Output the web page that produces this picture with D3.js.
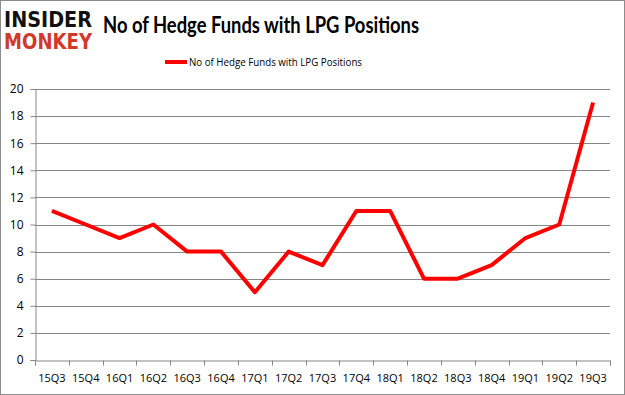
<!DOCTYPE html>
<html>
<head>
<meta charset="utf-8">
<script src="https://cdn.jsdelivr.net/npm/d3@7"></script>
<style>
  body { margin: 0; background: #fff; }
  svg { display: block; }
</style>
</head>
<body>
<svg id="drawing_region"></svg>
<script>
const quarters = ['15Q3','15Q4','16Q1','16Q2','16Q3','16Q4','17Q1','17Q2','17Q3','17Q4',
                  '18Q1','18Q2','18Q3','18Q4','19Q1','19Q2','19Q3'];
const funds = [11, 10, 9, 10, 8, 8, 5, 8, 7, 11, 11, 6, 6, 7, 9, 10, 19];
const yTicks = [0, 2, 4, 6, 8, 10, 12, 14, 16, 18, 20];
const seriesName = 'No of Hedge Funds with LPG Positions';

const width = 625, height = 395;
const margin = {top: 89, right: 15, bottom: 35, left: 35};
const innerW = width - margin.left - margin.right;
const innerH = height - margin.top - margin.bottom;

const svg = d3.select('#drawing_region')
    .attr('width', width)
    .attr('height', height);

svg.append('rect')
    .attr('x', 0.5).attr('y', 0.5)
    .attr('width', width - 1).attr('height', height - 1)
    .attr('fill', '#fff')
    .attr('stroke', '#8c8c8c');

// logo
svg.append('text')
    .attr('x', 4).attr('y', 27)
    .attr('font-family', 'DejaVu Sans')
    .attr('font-weight', 'bold')
    .attr('font-size', 21)
    .attr('textLength', 88)
    .attr('lengthAdjust', 'spacingAndGlyphs')
    .attr('fill', '#111')
    .text('INSIDER');
svg.append('text')
    .attr('x', 4).attr('y', 49)
    .attr('font-family', 'DejaVu Sans')
    .attr('font-weight', 'bold')
    .attr('font-size', 21)
    .attr('textLength', 88)
    .attr('lengthAdjust', 'spacingAndGlyphs')
    .attr('fill', '#d0392b')
    .text('MONKEY');

// title
svg.append('text')
    .attr('x', 103).attr('y', 33)
    .attr('font-family', 'Lato, "Open Sans", sans-serif')
    .attr('font-weight', 'bold')
    .attr('font-size', 22)
    .attr('textLength', 316)
    .attr('lengthAdjust', 'spacingAndGlyphs')
    .attr('fill', '#000')
    .text(seriesName);

// legend
svg.append('line')
    .attr('x1', 165).attr('x2', 187)
    .attr('y1', 62).attr('y2', 62)
    .attr('stroke', '#ff0000')
    .attr('stroke-width', 4);
svg.append('text')
    .attr('x', 189).attr('y', 66)
    .attr('font-family', '"Open Sans", sans-serif')
    .attr('font-size', 11)
    .attr('textLength', 173)
    .attr('lengthAdjust', 'spacingAndGlyphs')
    .attr('fill', '#000')
    .text(seriesName);

const chart = svg.append('g')
    .attr('transform', `translate(${margin.left}, ${margin.top})`);

const xscale = d3.scaleBand()
    .domain(quarters)
    .range([0, innerW]);

const yscale = d3.scaleLinear()
    .domain([0, 20])
    .range([innerH, 0]);

// gridlines
chart.append('g')
    .selectAll('line')
    .data(yTicks.filter(d => d > 0))
    .join('line')
    .attr('x1', 0).attr('x2', innerW)
    .attr('y1', d => Math.round(yscale(d)) + 0.5)
    .attr('y2', d => Math.round(yscale(d)) + 0.5)
    .attr('stroke', '#868686')
    .attr('stroke-width', 1);

const xaxis = d3.axisBottom(xscale)
    .tickSizeOuter(0)
    .tickSize(5)
    .tickPadding(9);

const xaxis_group = chart.append('g')
    .attr('transform', `translate(0, ${Math.round(innerH) + 0.5})`)
    .call(xaxis);
// ticks at band boundaries
xaxis_group.selectAll('.tick line').remove();
xaxis_group.selectAll('.bound')
    .data(d3.range(quarters.length + 1))
    .join('line')
    .attr('x1', i => Math.round(i * xscale.step()) + 0.5)
    .attr('x2', i => Math.round(i * xscale.step()) + 0.5)
    .attr('y1', 0).attr('y2', 5)
    .attr('stroke', '#868686');

const yaxis = d3.axisLeft(yscale)
    .tickValues(yTicks)
    .tickSizeOuter(0)
    .tickSize(5)
    .tickPadding(7);

const yaxis_group = chart.append('g')
    .attr('transform', 'translate(0.5, 0)')
    .call(yaxis);

chart.selectAll('.domain').attr('stroke', '#868686');
yaxis_group.selectAll('.tick line').attr('stroke', '#868686');
chart.selectAll('.tick text')
    .attr('font-family', '"Open Sans", sans-serif')
    .attr('font-size', 11)
    .attr('fill', '#000');
yaxis_group.selectAll('.tick text').attr('font-size', 12);

const line = d3.line()
    .x(d => xscale(d.q) + xscale.bandwidth() / 2)
    .y(d => yscale(d.v));

chart.append('path')
    .datum(quarters.map((q, i) => ({q: q, v: funds[i]})))
    .attr('d', line)
    .attr('fill', 'none')
    .attr('stroke', '#ff0000')
    .attr('stroke-width', 4)
    .attr('stroke-linejoin', 'round');
</script>
</body>
</html>
